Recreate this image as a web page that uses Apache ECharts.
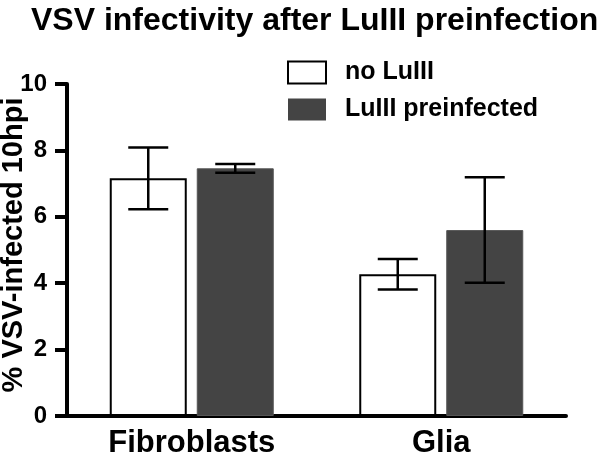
<!DOCTYPE html>
<html>
<head>
<meta charset="utf-8">
<script src="https://cdn.jsdelivr.net/npm/echarts@6/dist/echarts.min.js"></script>
<style>
html,body{margin:0;padding:0;background:#fff;}
#main{width:600px;height:462px;}
</style>
</head>
<body>
<div id="main"></div>
<script>
var categories = ['Fibroblasts', 'Glia'];
var seriesNames = ['no LuIII', 'LuIII preinfected'];
var noLuIII = [7.16, 4.27];
var noLuIIIErr = [0.93, 0.46];
var preinfected = [7.46, 5.60];
var preinfectedErr = [0.13, 1.59];
var yTicks = [0, 2, 4, 6, 8, 10];

var FONT = '"Liberation Sans", Arial, sans-serif';
var BAR_W = 77;
var GAP_PX = 8;
var offset = (BAR_W + 2 + GAP_PX) / 2;

function errData(vals, errs) {
  return vals.map(function (v, i) { return [i, v - errs[i], v + errs[i]]; });
}

function errRender(dx) {
  return function (params, api) {
    var i = api.value(0);
    var lo = api.coord([i, api.value(1)]);
    var hi = api.coord([i, api.value(2)]);
    var x = lo[0] + dx;
    var cap = 20;
    var st = { stroke: '#000', lineWidth: 2.5 };
    return {
      type: 'group',
      children: [
        { type: 'line', shape: { x1: x, y1: lo[1], x2: x, y2: hi[1] }, style: st },
        { type: 'line', shape: { x1: x - cap, y1: lo[1], x2: x + cap, y2: lo[1] }, style: st },
        { type: 'line', shape: { x1: x - cap, y1: hi[1], x2: x + cap, y2: hi[1] }, style: st }
      ]
    };
  };
}

var chart = echarts.init(document.getElementById('main'));
chart.setOption({
  animation: false,
  backgroundColor: '#fff',
  title: {
    text: 'VSV infectivity after LuIII preinfection',
    left: 26, top: 0,
    textStyle: { fontFamily: FONT, fontWeight: 'bold', fontSize: 32, color: '#000' }
  },
  legend: {
    orient: 'vertical',
    left: 282, top: 55,
    itemWidth: 38, itemHeight: 22, itemGap: 12,
    icon: 'rect',
    textStyle: { fontFamily: FONT, fontWeight: 'bold', fontSize: 25, color: '#000', padding: [0, 0, 0, 14] },
    data: [
      { name: seriesNames[0], itemStyle: { color: '#fff', borderColor: '#000', borderWidth: 2 } },
      { name: seriesNames[1], itemStyle: { color: '#444', borderWidth: 0 } }
    ]
  },
  grid: { left: 67, right: 34, top: 84, bottom: 46, containLabel: false, outerBoundsMode: 'none' },
  xAxis: {
    type: 'category',
    data: categories,
    axisLine: { lineStyle: { color: '#000', width: 4 } },
    axisTick: { alignWithLabel: true, length: 12, lineStyle: { color: '#000', width: 4 } },
    axisLabel: { fontFamily: FONT, fontWeight: 'bold', fontSize: 31, color: '#000', margin: 12 }
  },
  yAxis: {
    type: 'value',
    min: 0, max: 10, interval: 2,
    name: '% VSV-infected 10hpi',
    nameLocation: 'middle',
    nameGap: 39,
    nameMoveOverlap: false,
    nameTextStyle: { fontFamily: FONT, fontWeight: 'bold', fontSize: 29, color: '#000', padding: [0, 0, 0, 10] },
    axisLine: { show: true, lineStyle: { color: '#000', width: 4 } },
    axisTick: { show: true, length: 12, lineStyle: { color: '#000', width: 4 } },
    splitLine: { show: false },
    axisLabel: {
      fontFamily: FONT, fontWeight: 'bold', fontSize: 24, color: '#000', margin: 20,
      formatter: function (v) { return yTicks.indexOf(v) >= 0 ? String(v) : ''; }
    }
  },
  series: [
    {
      name: seriesNames[0], type: 'bar', data: noLuIII,
      barWidth: BAR_W, barGap: (GAP_PX + 2) / BAR_W * 100 + '%',
      itemStyle: { color: '#fff', borderColor: '#000', borderWidth: 2 }
    },
    {
      name: seriesNames[1], type: 'bar', data: preinfected,
      barWidth: BAR_W,
      itemStyle: { color: '#444', borderColor: '#555', borderWidth: 1 }
    },
    {
      type: 'custom', renderItem: errRender(-offset), data: errData(noLuIII, noLuIIIErr), z: 10, silent: true
    },
    {
      type: 'custom', renderItem: errRender(offset), data: errData(preinfected, preinfectedErr), z: 10, silent: true
    }
  ]
});
</script>
</body>
</html>
